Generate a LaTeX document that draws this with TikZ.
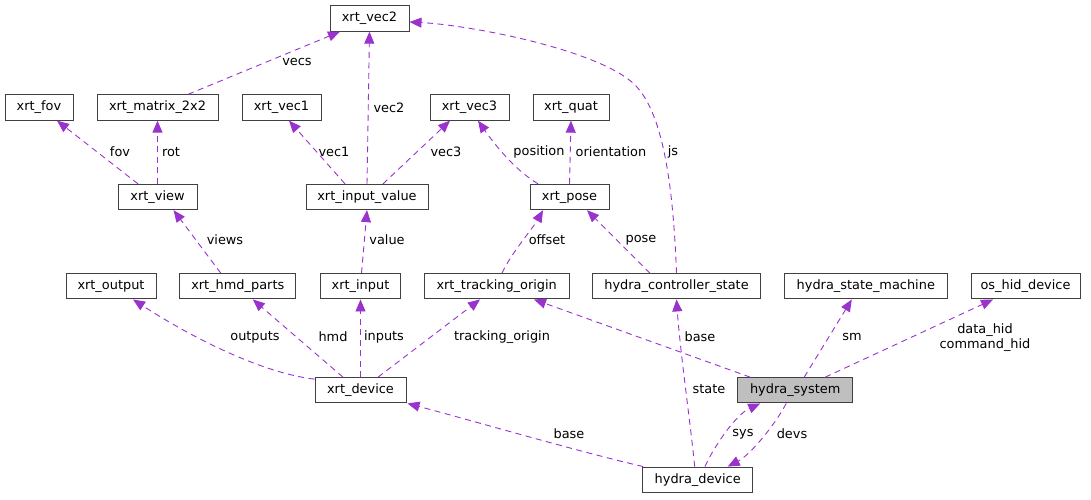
\documentclass[tikz,border=0pt]{standalone}
\usepackage{fontspec}
\setmainfont{DejaVu Sans}
\usetikzlibrary{arrows.meta}
\definecolor{edgecol}{HTML}{9A32CD}
\definecolor{hl}{HTML}{BFBFBF}
\begin{document}
\begin{tikzpicture}[x=1pt,y=-1pt,
  box/.style={draw=black!75, line width=1pt, fill=white, minimum height=25.3pt, inner sep=0pt, font=\fontsize{12.9}{15}\selectfont},
  link/.style={draw=edgecol, line width=0.9pt, dash pattern=on 6pt off 4.5pt, -{Triangle[length=12pt,width=10pt,fill=edgecol]}},
  lbl/.style={inner sep=0pt, font=\fontsize{12.9}{15}\selectfont, align=center}]
\useasboundingbox (0,0) rectangle (1091,499);

% nodes
\node[box, minimum width=79] (vec2) at (369.5,18.5) {xrt\_vec2};
\node[box, minimum width=68] (fov) at (39,107.5) {xrt\_fov};
\node[box, minimum width=121] (mat) at (157.5,107.5) {xrt\_matrix\_2x2};
\node[box, minimum width=79] (vec1) at (281.5,107.5) {xrt\_vec1};
\node[box, minimum width=79] (vec3) at (469.5,107.5) {xrt\_vec3};
\node[box, minimum width=76] (quat) at (571,107.5) {xrt\_quat};
\node[box, minimum width=79] (view) at (157.5,197) {xrt\_view};
\node[box, minimum width=122] (ival) at (367,197) {xrt\_input\_value};
\node[box, minimum width=79] (pose) at (569.5,197) {xrt\_pose};
\node[box, minimum width=90] (out) at (111,286.3) {xrt\_output};
\node[box, minimum width=116] (hmd) at (237.8,286.3) {xrt\_hmd\_parts};
\node[box, minimum width=80] (inp) at (360.5,286.3) {xrt\_input};
\node[box, minimum width=145] (trk) at (496.7,286.3) {xrt\_tracking\_origin};
\node[box, minimum width=168] (ctrl) at (676.5,286.3) {hydra\_controller\_state};
\node[box, minimum width=163] (sm) at (865.8,286.3) {hydra\_state\_machine};
\node[box, minimum width=109] (hid) at (1025.5,286.3) {os\_hid\_device};
\node[box, minimum width=91] (dev) at (360.5,390.3) {xrt\_device};
\node[box, minimum width=115, fill=hl] (sys) at (795.2,390.3) {hydra\_system};
\node[box, minimum width=110] (hdev) at (697.7,479.7) {hydra\_device};

% connectors
\draw[link] ([xshift=30.5]mat.north) -- ([xshift=-29.5]vec2.south);
\node[lbl] (l1) at (297,62) {vecs};
\draw[link] (ival.north) -- (vec2.south);
\node[lbl] (l2) at (389,107.5) {vec2};
\draw[link] (ctrl.north) .. controls (673,180) and (662,112) .. (635,85) .. controls (600,50) and (470,25) .. ([yshift=-3.5pt]vec2.east);
\node[lbl] (l3) at (673,152) {js};
\draw[link] ([xshift=-19.5]view.north) -- ([xshift=18]fov.south);
\node[lbl] (l4) at (120,152) {fov};
\draw[link] (view.north) -- (mat.south);
\node[lbl] (l5) at (171,152) {rot};
\draw[link] ([xshift=-22]ival.north) -- ([xshift=7.5]vec1.south);
\node[lbl] (l6) at (334,152) {vec1};
\draw[link] ([xshift=16]ival.north) -- ([xshift=-19.5]vec3.south);
\node[lbl] (l7) at (446,152) {vec3};
\draw[link] ([xshift=-31.5]pose.north) .. controls (515,170) and (495,145) .. ([xshift=8.5]vec3.south);
\node[lbl] (l8) at (539,152) {position};
\draw[link] (pose.north) -- (quat.south);
\node[lbl] (l9) at (611,152) {orientation};
\draw[link] ([xshift=-17]hmd.north) -- ([xshift=16]view.south);
\node[lbl] (l10) at (225,240) {views};
\draw[link] ([xshift=1]inp.north) -- (ival.south);
\node[lbl] (l11) at (387,240) {value};
\draw[link] ([xshift=5.3]trk.north) .. controls (510,255) and (533,228) .. ([xshift=-26.5]pose.south);
\node[lbl] (l12) at (547,240) {offset};
\draw[link] ([xshift=-26.5]ctrl.north) -- ([xshift=17.5]pose.south);
\node[lbl] (l13) at (641,240) {pose};
\draw[link] ([yshift=-2pt]dev.north west) .. controls (255,372) and (180,330) .. ([xshift=22]out.south);
\node[lbl] (l14) at (255,337) {outputs};
\draw[link] ([xshift=-17.5]dev.north) -- ([xshift=15]hmd.south);
\node[lbl] (l15) at (333,337) {hmd};
\draw[link] (dev.north) -- (inp.south);
\node[lbl] (l16) at (384,337) {inputs};
\draw[link] ([xshift=17.5]dev.north) -- ([xshift=-16.7]trk.south);
\node[lbl] (l17) at (502,337) {tracking\_origin};
\draw[link] ([xshift=-45]sys.north) -- ([xshift=37.3]trk.south);
\node[lbl] (l18) at (700,337) {base};
\draw[link] ([xshift=-3]hdev.north) .. controls (690,420) and (680,350) .. (ctrl.south);
\node[lbl] (l19) at (709,389) {state};
\draw[link] ([xshift=1]hdev.north west) .. controls (580,452) and (470,420) .. ([xshift=1]dev.south east);
\node[lbl] (l20) at (569,434) {base};
\draw[link] ([xshift=7.3]hdev.north) .. controls (712,450) and (735,415) .. ([xshift=-35]sys.south);
\node[lbl] (l21) at (743,434) {sys};
\draw[link] ([xshift=-9]sys.south) .. controls (775,425) and (750,455) .. ([xshift=30]hdev.north);
\node[lbl] (l22) at (792,434) {devs};
\draw[link] ([xshift=9]sys.north) -- ([xshift=-14]sm.south);
\node[lbl] (l23) at (852,337) {sm};
\draw[link] ([xshift=30]sys.north) -- ([xshift=-32.5]hid.south);
\node[lbl, font=\fontsize{12.9}{14.5}\selectfont] (l24) at (985,337.5) {data\_hid\\command\_hid};
\end{tikzpicture}
\end{document}
